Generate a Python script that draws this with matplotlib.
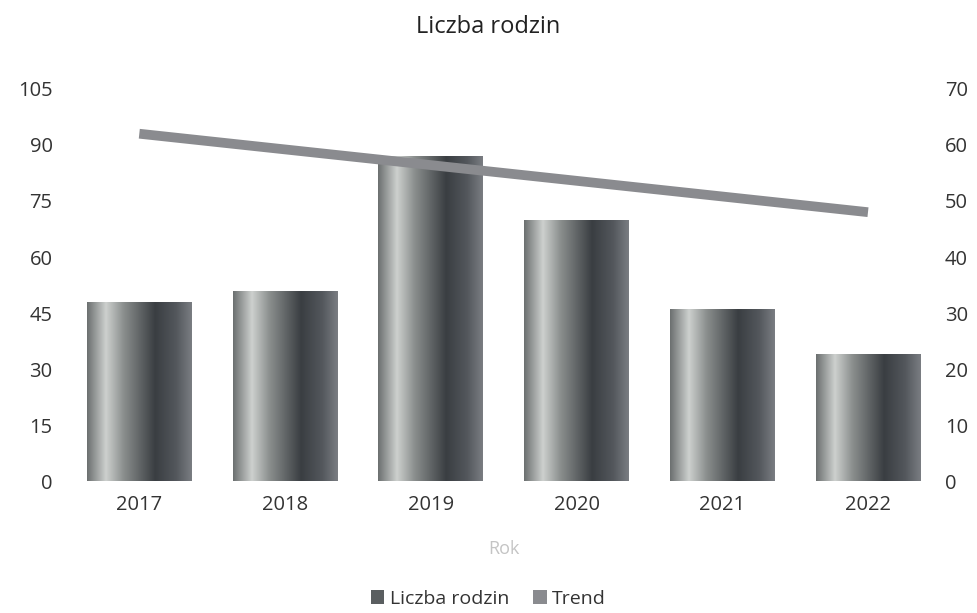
import numpy as np
import matplotlib.pyplot as plt
from matplotlib.colors import LinearSegmentedColormap
from matplotlib.patches import Patch

plt.rcParams['font.family'] = ['Open Sans', 'DejaVu Sans']

# data
years = ['2017', '2018', '2019', '2020', '2021', '2022']
families = [48, 51, 87, 70, 46, 34]          # left axis
trend = [62, 59.2, 56.4, 53.6, 50.8, 48]     # right axis

left_ticks = [0, 15, 30, 45, 60, 75, 90, 105]
right_ticks = [0, 10, 20, 30, 40, 50, 60, 70]

# cylinder-like grey shading for the bars
cyl = LinearSegmentedColormap.from_list('cyl', [
    (0.00, '#6c7070'), (0.18, '#cdd0ce'), (0.35, '#8a8e8d'),
    (0.65, '#3a3e42'), (0.85, '#53575c'), (1.00, '#7a7d82')])
grad = np.linspace(0, 1, 256).reshape(1, -1)

fig = plt.figure(figsize=(9.77, 6.13), dpi=100)
ax = fig.add_axes([0.068, 0.215, 0.895, 0.64])
ax2 = ax.twinx()

x = np.arange(len(years))
bars = ax.bar(x, families, width=0.72, color='none', edgecolor='none')
for b in bars:
    x0, w, h = b.get_x(), b.get_width(), b.get_height()
    im = ax.imshow(grad, cmap=cyl, aspect='auto', extent=[x0, x0 + w, 0, h],
                   zorder=2)
    im.set_clip_path(b)

ax2.plot(x, trend, color='#8a8b8f', lw=7, solid_capstyle='butt')

ax.set_xlim(-0.5, len(years) - 0.5)
ax.set_ylim(0, 105)
ax2.set_ylim(0, 70)
ax.set_yticks(left_ticks)
ax2.set_yticks(right_ticks)
ax.set_xticks(x)
ax.set_xticklabels(years)

for a in (ax, ax2):
    for s in a.spines.values():
        s.set_visible(False)
    a.tick_params(length=0, labelsize=14.5, colors='#333333')
ax.tick_params(axis='y', pad=10)
ax2.tick_params(axis='y', pad=3)
ax.tick_params(axis='x', pad=10)

ax.set_xlabel('Rok', fontsize=13, color='#c4c4c4', labelpad=18)
fig.suptitle('Liczba rodzin', y=0.975, fontsize=17, color='#222222')

handles = [Patch(facecolor='#5a5e60', edgecolor='none'),
           Patch(facecolor='#8a8b8f', edgecolor='none')]
fig.legend(handles, ['Liczba rodzin', 'Trend'], loc='lower center',
           bbox_to_anchor=(0.5, -0.02), ncol=2, frameon=False, fontsize=14,
           handlelength=0.7, handleheight=0.7, handletextpad=0.3,
           columnspacing=1.2, labelcolor='#333333')

fig.savefig('out.png', dpi=100)
